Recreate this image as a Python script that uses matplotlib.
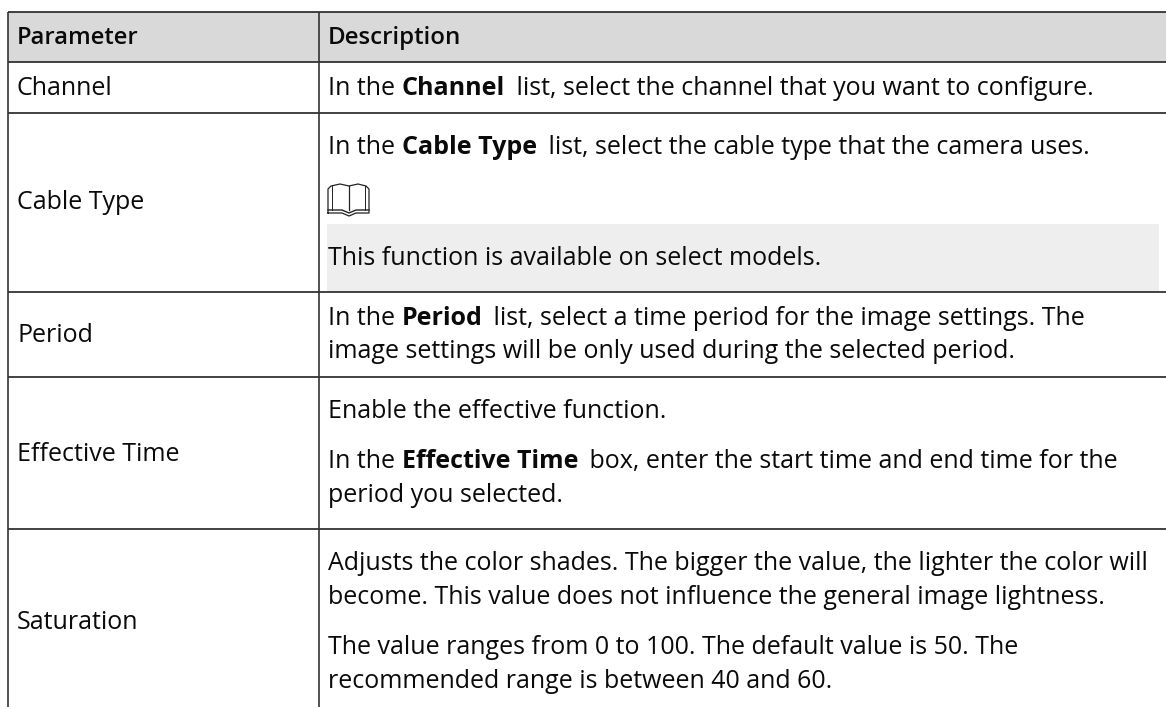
from matplotlib import pyplot as plt
from matplotlib.patches import Rectangle

plt.rcParams['font.family'] = ['Open Sans', 'DejaVu Sans']

FONT_PX = 25

# Table content
headers = ["Parameter", "Description"]
parameters = ["Channel", "Cable Type", "Period", "Effective Time", "Saturation"]
channel_lines = [[("In the ", 0), ("Channel", 1), (" list, select the channel that you want to configure.", 0)]]
cable_lines = [[("In the ", 0), ("Cable Type", 1), (" list, select the cable type that the camera uses.", 0)]]
cable_note = [[("This function is available on select models.", 0)]]
period_lines = [[("In the ", 0), ("Period", 1), (" list, select a time period for the image settings. The", 0)],
                [("image settings will be only used during the selected period.", 0)]]
effective_lines = [[("Enable the effective function.", 0)],
                   [("In the ", 0), ("Effective Time", 1), (" box, enter the start time and end time for the", 0)],
                   [("period you selected.", 0)]]
saturation_lines = [[("Adjusts the color shades. The bigger the value, the lighter the color will", 0)],
                    [("become. This value does not influence the general image lightness.", 0)],
                    [("The value ranges from 0 to 100. The default value is 50. The", 0)],
                    [("recommended range is between 40 and 60.", 0)]]

fig = plt.figure(figsize=(11.66, 7.07), dpi=100)
ax = fig.add_axes([0, 0, 1, 1])
ax.set_xlim(0, 1166)
ax.set_ylim(707, 0)
ax.axis('off')
renderer = fig.canvas.get_renderer()
fs = FONT_PX * 72 / 100


def run_width(s, weight):
    # measure with a sentinel so spaces at the ends are counted
    a = ax.text(0, 0, s + "|", fontsize=fs, fontweight=weight)
    b = ax.text(0, 0, "|", fontsize=fs, fontweight=weight)
    w = a.get_window_extent(renderer).width - b.get_window_extent(renderer).width
    a.remove(); b.remove()
    return w


def draw_line(x, y, runs, text_color="#0a0a0a"):
    for s, bold in runs:
        weight = 'bold' if bold else 'normal'
        ax.text(x, y, s, fontsize=fs, fontweight=weight, color=text_color, va='baseline', ha='left', zorder=3)
        x += run_width(s, weight) + (5 if bold else 0)


def draw_block(lines, baselines, x=328):
    for runs, y in zip(lines, baselines):
        draw_line(x, y, runs)


# Backgrounds
ax.add_patch(Rectangle((8, 12), 1158, 50, fc="#d9d9d9", ec="none", zorder=0))
ax.add_patch(Rectangle((327, 224), 832, 68, fc="#eeeeee", ec="none", zorder=0))

# Grid
for y in [12, 62, 113, 292, 377, 529]:
    ax.plot([8, 1166], [y, y], color="#222222", lw=1.2, zorder=2, solid_capstyle='butt')
for x in [8, 319]:
    ax.plot([x, x], [12, 707], color="#333333", lw=1.2, zorder=2, solid_capstyle='butt')

# Header and first column
ax.text(17, 44, headers[0], fontsize=fs * 0.95, color="#0a0a0a", fontweight='semibold')
ax.text(328, 44, headers[1], fontsize=fs * 0.96, color="#0a0a0a", fontweight='semibold')
for label, y in zip(parameters, [95, 209, 342, 461, 629]):
    ax.text(17, y, label, fontsize=fs, color="#0a0a0a")

# Second column
draw_block(channel_lines, [95])
draw_block(cable_lines, [154])
draw_block(cable_note, [265])
draw_block(period_lines, [325, 358])
draw_block(effective_lines, [418, 468, 502])
draw_block(saturation_lines, [570, 604, 654, 688])

# Book icon
book_x = [328, 328, 331, 340, 349, 358, 366, 369, 369, 356, 349, 342, 328]
book_y = [213, 189, 186, 184, 186, 184, 186, 189, 213, 213, 216, 213, 213]
ax.plot(book_x, book_y, color="#222222", lw=0.9, zorder=3)
ax.plot([349, 349], [186, 210], color="#222222", lw=0.9, zorder=3)
ax.plot([332, 332], [186, 210], color="#222222", lw=0.7, zorder=3)
ax.plot([365, 365], [186, 210], color="#222222", lw=0.7, zorder=3)
ax.plot([328, 342, 349, 356, 369], [210, 210, 213, 210, 210], color="#222222", lw=1.0, zorder=3)

fig.savefig("out.png", dpi=100)
